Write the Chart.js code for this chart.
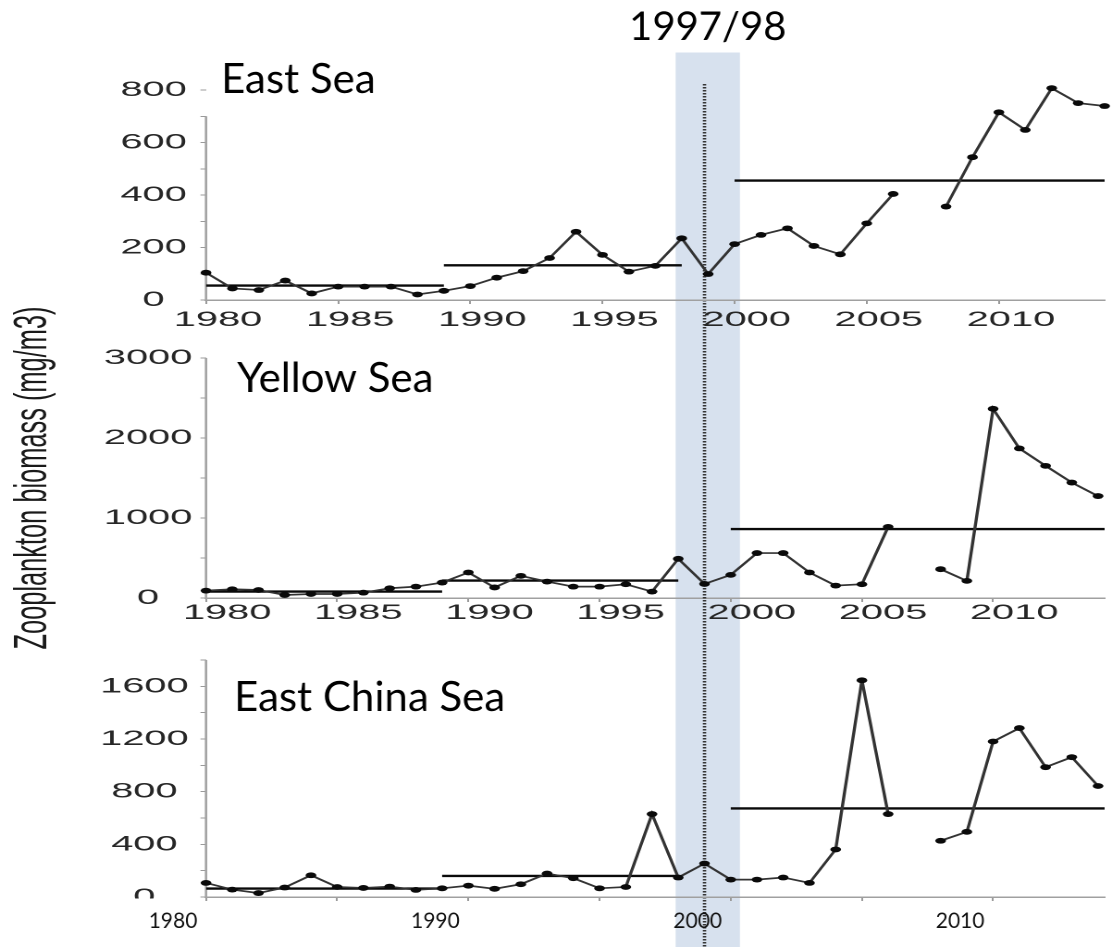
<!DOCTYPE html>
<html>
<head>
<meta charset="utf-8">
<title>Zooplankton biomass</title>
<script src="https://cdn.jsdelivr.net/npm/chart.js@4.4.1/dist/chart.umd.min.js"></script>
<style>
  html, body { margin: 0; padding: 0; background: #fff; overflow: hidden; }
  #figure { position: relative; width: 1112px; height: 947px; }
  .panel { position: absolute; left: 0; top: 0; width: 601px; height: 947px; transform-origin: 0 0; }
</style>
</head>
<body>
<div id="figure">
  <div class="panel"><canvas id="ys" width="601" height="947"></canvas></div>
  <div class="panel"><canvas id="es" width="601" height="947"></canvas></div>
  <div class="panel"><canvas id="ecs" width="601" height="947"></canvas></div>
</div>
<script>
// ---- data -------------------------------------------------------------
const years = [1980, 1981, 1982, 1983, 1984, 1985, 1986, 1987, 1988, 1989,
               1990, 1991, 1992, 1993, 1994, 1995, 1996, 1997, 1998, 1999,
               2000, 2001, 2002, 2003, 2004, 2005, 2006, 2007, 2008, 2009,
               2010, 2011, 2012, 2013, 2014];

const eastSea = [104, 44, 38, 74, 25, 51, 51, 51, 21, 35,
                 53, 85, 110, 160, 260, 172, 108, 130, 235, 99,
                 213, 248, 273, 206, 174, 292, 404, null, 356, 544,
                 715, 648, 807, 750, 739];

const yellowSea = [92, 109, 100, 38, 50, 50, 67, 122, 142, 193,
                   319, 132, 277, 205, 142, 142, 172, 80, 490, 176,
                   289, 562, 562, 319, 155, 172, 889, null, 360, 214,
                   2365, 1870, 1652, 1443, 1274];

const eastChinaSea = [107, 56, 30, 72, 165, 76, 69, 79, 54, 66,
                      86, 62, 97, 178, 143, 66, 76, 630, 148, 254,
                      132, 132, 148, 107, 361, 1646, 630, null, 427, 495,
                      1181, 1283, 986, 1062, 843];

// regime periods and their mean biomass
const regimeSpans = [[1980, 1989], [1989, 1998], [2000, 2014.25]];
const eastSeaMeans = [55, 132, 455];
const yellowSeaMeans = [80, 218, 862];
const eastChinaSeaMeans = [64, 160, 673];

// 1997/98 shift
const shiftBand = [1997.9, 2000.35];
const shiftYear = 1999;
const shiftLabel = '1997/98';

const ecsYearLabels = ['1980', '1990', '2000', '2010'];
const yTitle = 'Zooplankton biomass (mg/m3)';

// ---- layout -----------------------------------------------------------
const PAGE_H = 947;
const SX = 1112 / 601;          // horizontal stretch of the plotted figure
const LEFT = 206 / SX;          // y-axis position (canvas units)
const tickFont = { family: "'Liberation Sans', Arial, sans-serif", size: 21.5 };
const labelFont = 'Lato, "Open Sans", sans-serif';

function flat(ctx, fn) {       // draw text without the horizontal stretch
  ctx.save();
  ctx.scale(1 / SX, 1);
  fn();
  ctx.restore();
}

function makeDecor(cfg) {
  return {
    id: 'panelDecor',
    beforeDraw(chart) {
      if (!cfg.shift) return;
      const { ctx, scales: { x } } = chart;
      const l = x.getPixelForValue(shiftBand[0]);
      const r = x.getPixelForValue(shiftBand[1]);
      ctx.save();
      ctx.fillStyle = '#d7e1ee';
      ctx.fillRect(l, 52.5, r - l, PAGE_H - 52.5);
      ctx.restore();
    },
    beforeDatasetsDraw(chart) {
      const { ctx, chartArea, scales: { x, y } } = chart;
      ctx.save();
      // vertical axis line
      ctx.strokeStyle = '#a3a3a3';
      ctx.lineWidth = 1.3;
      ctx.beginPath();
      ctx.moveTo(chartArea.left, y.getPixelForValue(0) + 1);
      ctx.lineTo(chartArea.left, y.getPixelForValue(cfg.axisTop));
      ctx.stroke();
      if (cfg.shift) {
        const px = x.getPixelForValue(shiftYear);
        ctx.strokeStyle = '#333';
        ctx.lineWidth = 1.8;
        ctx.setLineDash([1.5, 1.5]);
        ctx.beginPath();
        ctx.moveTo(px, 84);
        ctx.lineTo(px, PAGE_H);
        ctx.stroke();
      }
      ctx.restore();
    },
    afterDraw(chart) {
      const { ctx, chartArea, scales: { x } } = chart;
      if (cfg.maskBelow) {
        ctx.save();
        ctx.fillStyle = '#fff';
        ctx.fillRect(0, chartArea.bottom + 1.5, chartArea.left - 2, PAGE_H);
        ctx.restore();
      }
      flat(ctx, () => {
        ctx.fillStyle = '#000';
        ctx.textBaseline = 'alphabetic';
        ctx.textAlign = 'left';
        ctx.font = `42px ${labelFont}`;
        ctx.fillText(cfg.title, cfg.titleAt[0], cfg.titleAt[1]);
        if (cfg.shift) {
          const mid = x.getPixelForValue((shiftBand[0] + shiftBand[1]) / 2) * SX;
          ctx.textAlign = 'center';
          ctx.font = `40px ${labelFont}`;
          ctx.fillText(shiftLabel, mid, 40);
        }
        if (cfg.yearLabels) {
          ctx.textAlign = 'center';
          ctx.fillStyle = '#111';
          ctx.font = `21px ${labelFont}`;
          cfg.yearLabels.forEach(t => {
            ctx.fillText(t, x.getPixelForValue(Number(t)) * SX - 33, 928);
          });
        }
      });
    }
  };
}

function buildPanel(cfg) {
  const canvas = document.getElementById(cfg.id);
  canvas.parentElement.style.transform = `scaleX(${SX})`;
  const series = years.map((yr, i) => ({ x: yr, y: cfg.values[i] }));
  // regime means: heavy black lines
  const meanSets = cfg.means.map((m, k) => ({
    data: regimeSpans[k].map(yr => ({ x: yr, y: m })),
    borderColor: '#0a0a0a',
    borderWidth: 2.4,
    pointRadius: 0
  }));
  return new Chart(canvas, {
    type: 'line',
    data: {
      datasets: [{
        data: series,
        borderColor: '#333',
        borderWidth: 1.7,
        pointRadius: 2.9,
        pointBackgroundColor: '#0a0a0a',
        pointBorderColor: '#0a0a0a',
        pointBorderWidth: 0,
        spanGaps: false,
        clip: false
      }, ...meanSets]
    },
    options: {
      responsive: false,
      animation: false,
      devicePixelRatio: 2,
      events: [],
      layout: { padding: { top: cfg.top, left: 0, right: 0, bottom: 0 } },
      plugins: { legend: { display: false }, tooltip: { enabled: false } },
      scales: {
        x: {
          type: 'linear',
          min: 1980,
          max: cfg.xMax,
          afterFit: s => { s.height = PAGE_H - cfg.bottom; },
          grid: { display: true, drawOnChartArea: false, drawTicks: true, tickLength: 4, color: '#9a9a9a' },
          border: { display: true, color: '#a0a0a0', width: 1.5 },
          ticks: {
            display: cfg.xTicks,
            stepSize: 5,
            includeBounds: false,
            autoSkip: false,
            maxRotation: 0,
            padding: cfg.xTickPad,
            labelOffset: cfg.xLabelOffset,
            color: '#262626',
            font: tickFont,
            callback: v => String(v)
          }
        },
        y: {
          min: 0,
          max: cfg.yMax,
          afterFit: s => { s.width = LEFT; },
          grid: { display: true, drawOnChartArea: false, drawTicks: true, tickLength: 3, color: '#9a9a9a' },
          border: { display: false },
          ticks: {
            stepSize: cfg.yStep,
            autoSkip: false,
            crossAlign: 'center',
            padding: cfg.yLabelPad,
            color: '#262626',
            font: tickFont,
            callback: v => (v % cfg.yLabelEvery === 0 ? String(v) : '')
          },
          title: cfg.yTitle ? {
            display: true,
            text: yTitle,
            color: '#1a1a1a',
            font: { family: "'Liberation Sans', Arial, sans-serif", size: 25.4 },
            padding: { top: 3, bottom: 0 }
          } : { display: false }
        }
      }
    },
    plugins: [makeDecor(cfg)]
  });
}

// bottom layer first: it carries the shift band
buildPanel({
  id: 'ys', values: yellowSea, means: yellowSeaMeans,
  xMax: 2014.25, yMax: 3000, yStep: 500, yLabelEvery: 1000, axisTop: 3000,
  top: 358, bottom: 598, yLabelPad: 4.4, xTicks: true, xTickPad: -2, xLabelOffset: 11.4,
  title: 'Yellow Sea', titleAt: [237, 392], yTitle: true, shift: true
});
buildPanel({
  id: 'es', values: eastSea, means: eastSeaMeans,
  xMax: 2014.0, yMax: 800, yStep: 100, yLabelEvery: 200, axisTop: 700,
  top: 90, bottom: 300, yLabelPad: 7.4, xTicks: true, xTickPad: 3, xLabelOffset: 6.5,
  title: 'East Sea', titleAt: [221, 93]
});
buildPanel({
  id: 'ecs', values: eastChinaSea, means: eastChinaSeaMeans,
  xMax: 2014.25, yMax: 1800, yStep: 200, yLabelEvery: 400, axisTop: 1800,
  top: 660, bottom: 897, yLabelPad: 6.4, xTicks: false, xTickPad: 0, xLabelOffset: 0,
  title: 'East China Sea', titleAt: [234, 711], maskBelow: true, yearLabels: ecsYearLabels
});
</script>
</body>
</html>
